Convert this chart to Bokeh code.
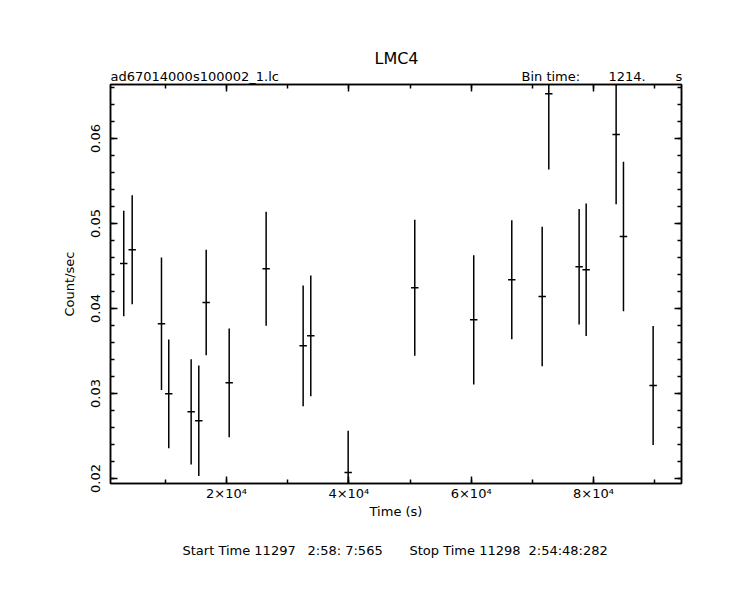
from bokeh.plotting import figure
from bokeh.models import (Range1d, LinearAxis, FixedTicker,
                          CustomJSTickFormatter, ColumnDataSource)
from bokeh.core.properties import value
from bokeh.embed import file_html
from bokeh.resources import INLINE

# ---- data ----
time_s = [3200, 4580, 9370, 10560, 14220, 15470, 16680, 20440, 26480, 32530,
          33780, 39890, 50780, 60420, 66640, 71610, 72690, 77650, 78800,
          83700, 84900, 89750]
rate = [0.04529, 0.04691, 0.0382, 0.02996, 0.02784, 0.02679, 0.04071,
        0.03126, 0.04467, 0.03561, 0.03679, 0.02071, 0.04244, 0.03867,
        0.04338, 0.04141, 0.06526, 0.04491, 0.04455, 0.06047, 0.04847,
        0.03094]
rate_err = [0.0062, 0.0064, 0.0078, 0.0064, 0.0062, 0.0065, 0.0062, 0.0064,
            0.0067, 0.0071, 0.0071, 0.0049, 0.0080, 0.0076, 0.0070, 0.0082,
            0.0089, 0.0068, 0.0078, 0.0082, 0.0088, 0.0070]
bin_time = 1214.0

x_ticks = [20000, 40000, 60000, 80000]
x_tick_labels = ["2×10⁴", "4×10⁴", "6×10⁴", "8×10⁴"]
x_minor = [10000, 20000, 30000, 40000, 50000, 60000, 70000, 80000, 90000]
y_ticks = [0.02, 0.03, 0.04, 0.05, 0.06]
y_tick_labels = ["0.02", "0.03", "0.04", "0.05", "0.06"]
y_minor = [0.02 + 0.002 * i for i in range(0, 24)]

title_text = "LMC4"
header_texts = ["ad67014000s100002_1.lc", "Bin time:", "1214.", "s"]
footer_texts = ["Start Time 11297", "2:58: 7:565", "Stop Time 11298",
                "2:54:48:282"]

FONT = "DejaVu Sans"
FS = "13px"

# frame geometry (pixels) and ranges
W, H = 743, 607
FL, FR, FT, FB = 110, 681, 84, 483
X0, X1 = 1035, 94387
Y0, Y1 = 0.019412, 0.06635


def dx(px):
    return X0 + (px - FL) / (FR - FL) * (X1 - X0)


def dy(py):
    return Y0 + (FB - py) / (FB - FT) * (Y1 - Y0)


src = ColumnDataSource(dict(
    t=time_s, r=rate,
    lo=[r - e for r, e in zip(rate, rate_err)],
    hi=[r + e for r, e in zip(rate, rate_err)],
    t0=[t - bin_time / 2 for t in time_s],
    t1=[t + bin_time / 2 for t in time_s],
))

p = figure(width=W, height=H, output_backend="svg", toolbar_location=None,
           x_range=Range1d(X0, X1), y_range=Range1d(Y0, Y1),
           x_axis_location=None, y_axis_location=None,
           min_border_left=FL, min_border_right=W - FR,
           min_border_top=FT, min_border_bottom=H - FB)
p.grid.visible = False
p.outline_line_color = "black"
p.outline_line_width = 1.5
p.background_fill_color = "white"
p.border_fill_color = "white"

xt = FixedTicker(ticks=x_ticks, minor_ticks=x_minor)
yt = FixedTicker(ticks=y_ticks, minor_ticks=y_minor)
blank = CustomJSTickFormatter(code="return ''")


def style(ax):
    ax.axis_line_width = 1.5
    ax.major_tick_line_width = 1.5
    ax.minor_tick_line_width = 1.5
    ax.major_tick_in = 7
    ax.major_tick_out = 0
    ax.minor_tick_in = 4
    ax.minor_tick_out = 0
    ax.major_label_text_font = FONT
    ax.major_label_text_font_size = FS
    ax.major_label_text_color = "black"
    ax.axis_label_text_font = FONT
    ax.axis_label_text_font_size = FS
    ax.axis_label_text_font_style = "normal"
    ax.axis_label_text_color = "black"


xb = LinearAxis(ticker=xt, axis_label="Time (s)")
xb.major_label_overrides = dict(zip(x_ticks, x_tick_labels))
xb.major_label_standoff = 2
xb.axis_label_standoff = 0
style(xb)
p.add_layout(xb, "below")

xa = LinearAxis(ticker=xt, formatter=blank)
style(xa)
p.add_layout(xa, "above")

yl = LinearAxis(ticker=yt, axis_label="Count/sec")
yl.major_label_overrides = dict(zip(y_ticks, y_tick_labels))
yl.major_label_orientation = "vertical"
yl.major_label_standoff = 10
yl.axis_label_standoff = 12
style(yl)
p.add_layout(yl, "left")

yr = LinearAxis(ticker=yt, formatter=blank)
style(yr)
p.add_layout(yr, "right")

# error bars
p.segment(x0="t", y0="lo", x1="t", y1="hi", source=src,
          line_color="black", line_width=1.5)
p.segment(x0="t0", y0="r", x1="t1", y1="r", source=src,
          line_color="black", line_width=1.5)

# texts outside the frame (overlay level is not clipped)
p.text(x=[dx(396)], y=[dy(58)], text=[title_text],
       text_font=value(FONT), text_font_size=value("16px"),
       text_color="black", text_align="center", text_baseline="middle",
       level="overlay")
p.text(x=[dx(110), dx(521), dx(608), dx(675)], y=[dy(76)] * 4,
       text=header_texts, text_font=value(FONT), text_font_size=value(FS),
       text_color="black", text_align="left", text_baseline="middle",
       level="overlay")
p.text(x=[dx(182), dx(307), dx(409), dx(528)], y=[dy(550)] * 4,
       text=footer_texts, text_font=value(FONT), text_font_size=value(FS),
       text_color="black", text_align="left", text_baseline="middle",
       level="overlay")

open("out.html", "w").write(file_html(p, INLINE))
